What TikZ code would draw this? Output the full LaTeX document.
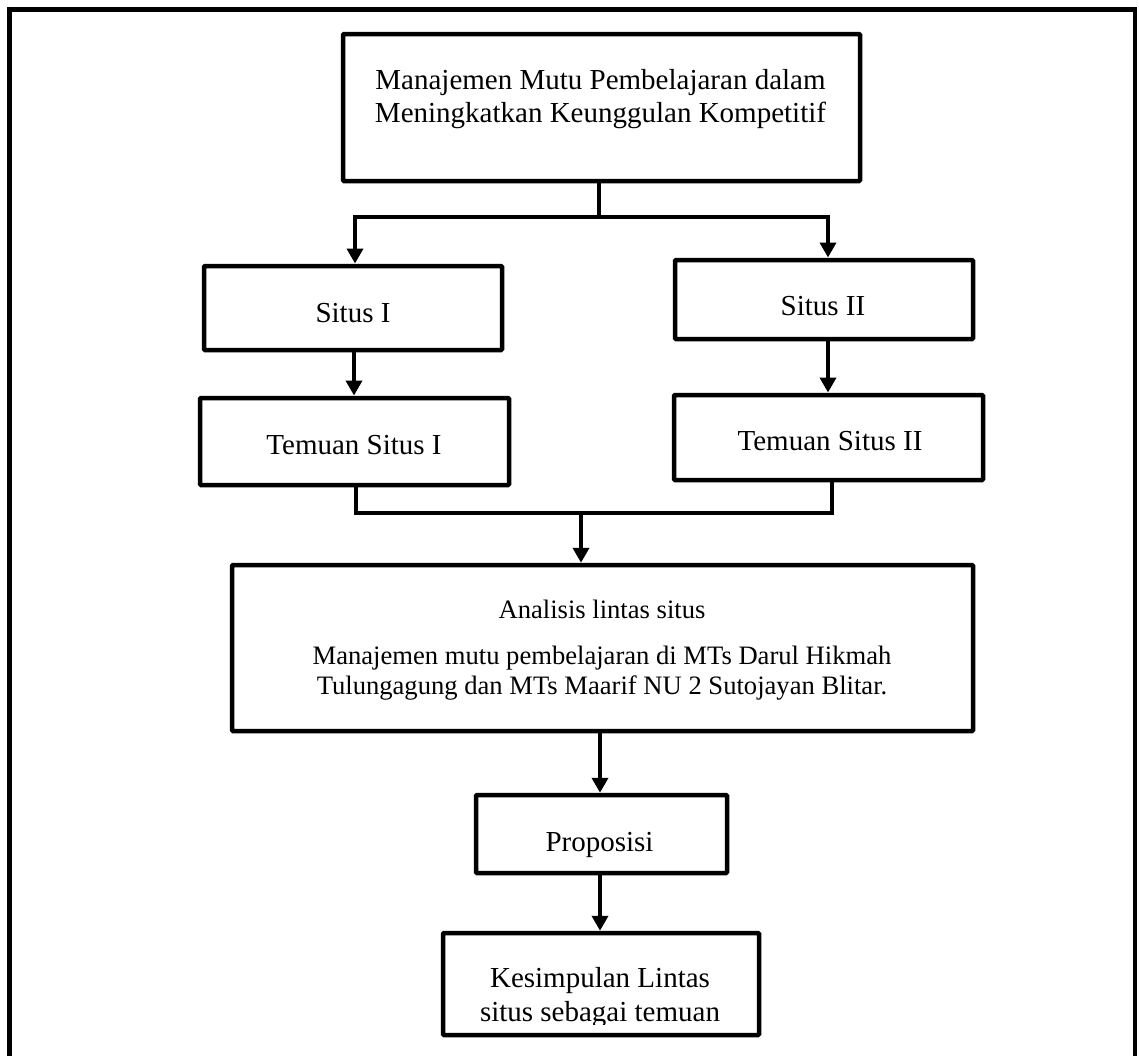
\documentclass[tikz,border=0pt]{standalone}
\usepackage{fontspec}
\setmainfont{Liberation Serif}
\usetikzlibrary{arrows.meta,calc}
\begin{document}
\begin{tikzpicture}[x=1pt,y=-1pt,
  box/.style={draw, line width=4.5pt, rounded corners=1pt, inner sep=0pt},
  txt/.style={font=\fontsize{29}{33.4}\selectfont, align=center, inner sep=0pt, anchor=base},
  smalltxt/.style={font=\fontsize{26.6}{30}\selectfont, align=center, inner sep=0pt, anchor=base},
  conn/.style={line width=4.5pt},
  arr/.style={conn, -{Triangle[width=16pt,length=15pt]}}]
\useasboundingbox (0,0) rectangle (1139,1055);
% outer frame (open at the bottom)
\draw[conn] (9.5,1070) -- (9.5,9.5) -- (1135,9.5) -- (1135,1070);

% boxes
\node[box, minimum width=517pt, minimum height=147pt] (top) at (601.5,107.5) {};
\node[box, minimum width=298pt, minimum height=84pt] (s1) at (353,308) {};
\node[box, minimum width=309pt, minimum height=87pt] (t1) at (354.5,441.5) {};
\node[box, minimum width=298pt, minimum height=79pt] (s2) at (824,299.5) {};
\node[box, minimum width=309pt, minimum height=85pt] (t2) at (828.5,437.5) {};
\node[box, minimum width=741pt, minimum height=166pt] (an) at (602.5,648) {};
\node[box, minimum width=251pt, minimum height=78pt] (prop) at (601.5,834) {};
\node[box, minimum width=316pt, minimum height=102pt] (kes) at (601,984) {};

% texts (base anchor of a multi-line node = baseline of its last line)
\node[txt] (toptext) at (600.5,122.7) {Manajemen Mutu Pembelajaran dalam\\Meningkatkan Keunggulan Kompetitif};
\node[txt] (s1text) at (353,322.7) {Situs I};
\node[txt] (t1text) at (354,454) {Temuan Situs I};
\node[txt] (s2text) at (823,315) {Situs II};
\node[txt] (t2text) at (830,450) {Temuan Situs II};
\node[smalltxt] (antitle) at (602,618) {Analisis lintas situs};
\node[smalltxt] (antext) at (602,694) {Manajemen mutu pembelajaran di MTs Darul Hikmah\\Tulungagung dan MTs Maarif NU 2 Sutojayan Blitar.};
\node[txt] (proptext) at (599.5,851.5) {Proposisi};
\begin{scope}
  \clip (443,933) rectangle (759,1024);
  \node[txt] (kestext) at (600,1021) {Kesimpulan Lintas\\situs sebagai temuan};
\end{scope}

% connectors
\coordinate (j1) at (599,217);
\draw[conn] (top.south -| j1) -- (j1);
\draw[arr] (j1) -| (355,263.5);
\draw[arr] (j1) -| (828,257.5);
\draw[arr] (s1.south -| 354,0) -- (354,395.5);
\draw[arr] (s2.south -| 828,0) -- (828,392.5);
\coordinate (j2) at (581,513);
\draw[conn] (t1.south -| 356,0) |- (j2) -| (832,480);
\draw[arr] (j2) -- (j2 |- an.north);
\draw[arr] (an.south -| 600,0) -- (prop.north -| 600,0);
\draw[arr] (prop.south -| 600,0) -- (kes.north -| 600,0);
\end{tikzpicture}
\end{document}
